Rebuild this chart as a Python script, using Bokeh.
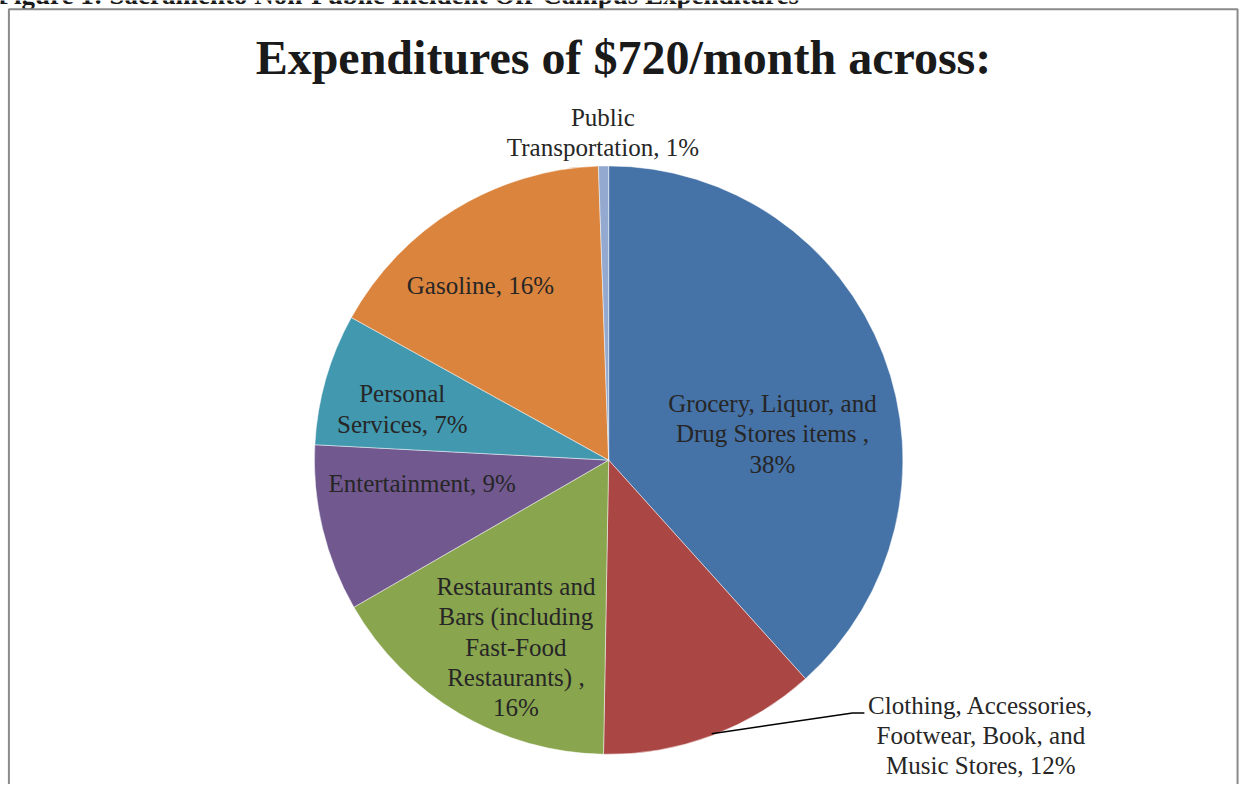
import math
from bokeh.plotting import figure
from bokeh.models import Range1d
from bokeh.core.properties import value
from bokeh.embed import file_html
from bokeh.resources import INLINE

# ---- data ----
caption = "Figure 1: Sacramento Non-Public Incident Off-Campus Expenditures"
title = "Expenditures of $720/month across:"
categories = [
    "Grocery, Liquor, and\nDrug Stores items ",
    "Clothing, Accessories,\nFootwear, Book, and\nMusic Stores",
    "Restaurants and\nBars (including\nFast-Food\nRestaurants) ",
    "Entertainment",
    "Personal\nServices",
    "Gasoline",
    "Public\nTransportation",
]
amounts = [276, 86, 118, 66, 52, 118, 4]  # dollars per month (sum 720)
colors = ["#4572A7", "#AA4643", "#89A54E", "#71588F", "#4198AF", "#DB843D", "#93A9CF"]
label_sep = ["\n", " ", "\n", " ", " ", " ", " "]

# ---- layout (style, not data) ----
W, H = 1241, 784          # canvas in pixels
VW, VH = 1257, 800        # virtual drawing units
CX, CY, R = 616, 331, 298
# label anchor in polar form relative to pie centre: (radius fraction, angle deg ccw from +x)
label_polar = [(0.564, 9.2), (1.578, -36.7), (0.714, 243.8), (0.639, 187.2),
               (0.723, 166.0), (0.740, 126.1), (1.121, 91.0)]
FONT = "Liberation Serif"
TXT = "#262626"

total = sum(amounts)
fracs = [a / total for a in amounts]
starts, ends = [], []
cum = 0.0
for f in fracs:
    # clockwise from 12 o'clock
    ends.append(math.pi / 2 - 2 * math.pi * cum)
    cum += f
    starts.append(math.pi / 2 - 2 * math.pi * cum)

p = figure(width=W, height=H, x_range=Range1d(0, VW), y_range=Range1d(0, VH),
           output_backend="svg", toolbar_location=None, min_border=0)
p.axis.visible = False
p.grid.visible = False
p.outline_line_color = None
p.background_fill_color = "white"
p.border_fill_color = "white"

# cropped caption at the very top (only its lower part is visible)
p.text(x=[-3], y=[VH + 6], text=[caption], text_font=value(FONT),
       text_font_size="27px", text_font_style="bold", text_color="#1a1a1a",
       text_align="left", text_baseline="middle")

# frame (left, top, right)
p.multi_line(xs=[[8.5, 8.5, VW - 4, VW - 4]], ys=[[0, VH - 9, VH - 9, 0]],
             line_color="#8a8a8a", line_width=2)

p.wedge(x=[CX] * len(amounts), y=[CY] * len(amounts), radius=R,
        start_angle=starts, end_angle=ends, fill_color=colors,
        line_color="white", line_width=0.6, line_alpha=0.8)

# labels
lx, ly, texts = [], [], []
for i, cat in enumerate(categories):
    rf, ang = label_polar[i]
    lx.append(CX + rf * R * math.cos(math.radians(ang)))
    ly.append(CY + rf * R * math.sin(math.radians(ang)))
    pct = round(fracs[i] * 100)
    texts.append(f"{cat},{label_sep[i]}{pct}%")

p.text(x=lx, y=ly, text=texts, text_font=value(FONT), text_font_size="25px",
       text_color=TXT, text_align="center", text_baseline="middle",
       text_line_height=1.12)

# leader line for the clothing label
mid = (starts[1] + ends[1]) / 2
sx, sy = CX + R * math.cos(mid), CY + R * math.sin(mid)
p.line(x=[sx, lx[1] - 130, lx[1] - 118], y=[sy, ly[1] + 23, ly[1] + 23],
       line_color="black", line_width=1.5)

# title
p.text(x=[631], y=[VH - 58], text=[title], text_font=value(FONT),
       text_font_size="48px", text_font_style="bold", text_color="#1a1a1a",
       text_align="center", text_baseline="middle")

open("out.html", "w").write(file_html(p, INLINE))
